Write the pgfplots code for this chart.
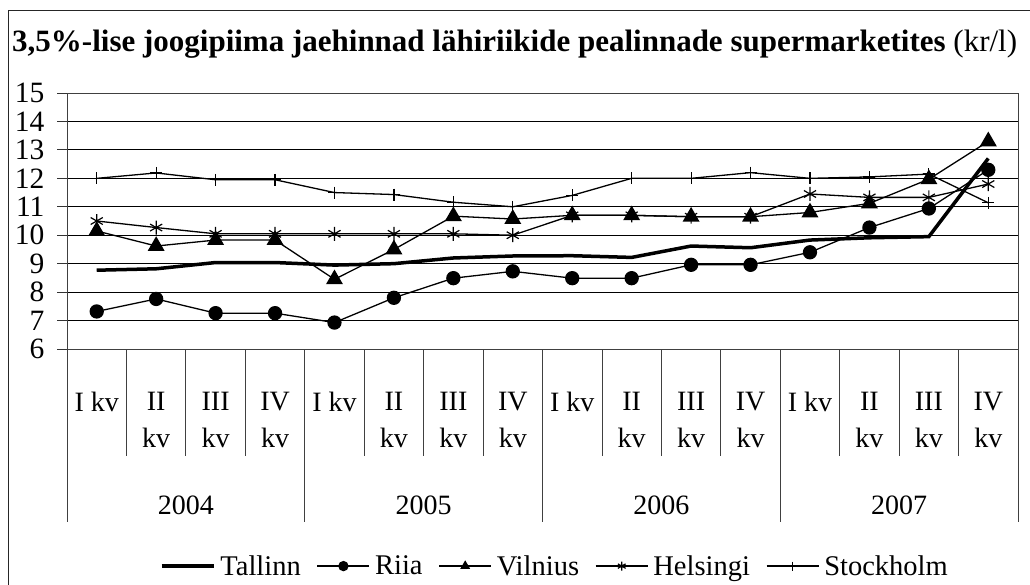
\documentclass[border=0pt]{standalone}
\usepackage{fontspec}
\setmainfont{Liberation Serif}
\usepackage{pgfplots}
\pgfplotsset{compat=1.18}
\begin{document}
\begin{tikzpicture}
\useasboundingbox (0,0) rectangle (1030pt,-585pt);
\draw[line width=1pt, black!85] (8pt,-600pt) -- (8pt,-11pt) -- (1040pt,-11pt);
\node[anchor=base west, inner sep=0pt, font=\fontsize{31}{34}\selectfont] at (12pt,-52pt) {\textbf{3,5\%-lise joogipiima jaehinnad lähiriikide pealinnade supermarketites} (kr/l)};
\begin{axis}[
 at={(67pt,-349pt)}, anchor=south west,
 scale only axis, width=951pt, height=256pt,
 xmin=-0.5, xmax=15.5, ymin=6, ymax=15,
 clip=false,
 ytick={6,...,15},
 xtick={0,...,15},
 xticklabels={I kv,II\\kv,III\\kv,IV\\kv,I kv,II\\kv,III\\kv,IV\\kv,I kv,II\\kv,III\\kv,IV\\kv,I kv,II\\kv,III\\kv,IV\\kv},
 xticklabel style={align=center, anchor=north, yshift=-30pt, font=\fontsize{28}{37}\selectfont},
 yticklabel={\fontsize{29.5}{30}\selectfont\pgfmathprintnumber{\tick}},
 yticklabel style={xshift=-9pt},
 /pgf/number format/assume math mode=true,
 x tick style={draw=none},
 y tick style={black!80, line width=0.8pt},
 tick align=outside, ytick pos=left, major tick length=10pt,
 ymajorgrids, major grid style={black, line width=0.8pt},
 axis line style={black!75, line width=1pt},
 legend columns=5,
 legend style={draw=none, fill=none, at={(0.513,-0.848)}, anchor=center, font=\fontsize{28.5}{30}\selectfont, /tikz/every even column/.append style={column sep=14pt}, /tikz/every odd column/.append style={column sep=3pt}},
 legend image code/.code={\draw[mark repeat=2,mark phase=2,#1,mark size=4.5pt] plot coordinates {(0pt,0pt) (26pt,0pt) (52pt,0pt)};},
]
\pgfplotsinvokeforeach{0.5,1.5,2.5,4.5,5.5,6.5,8.5,9.5,10.5,12.5,13.5,14.5}{\draw[black!75, line width=0.8pt] (axis cs:#1,6) -- ([yshift=-107pt]axis cs:#1,6);}
\pgfplotsinvokeforeach{-0.5,3.5,7.5,11.5,15.5}{\draw[black!75, line width=0.8pt] (axis cs:#1,6) -- ([yshift=-173pt]axis cs:#1,6);}
\node[anchor=base, font=\fontsize{28}{30}\selectfont] at ([yshift=-165pt]axis cs:1.5,6) {2004};
\node[anchor=base, font=\fontsize{28}{30}\selectfont] at ([yshift=-165pt]axis cs:5.5,6) {2005};
\node[anchor=base, font=\fontsize{28}{30}\selectfont] at ([yshift=-165pt]axis cs:9.5,6) {2006};
\node[anchor=base, font=\fontsize{28}{30}\selectfont] at ([yshift=-165pt]axis cs:13.5,6) {2007};

\addplot[black, line width=3.5pt, no markers] coordinates {
(0,8.77) (1,8.82) (2,9.04) (3,9.04) (4,8.95) (5,9.0) (6,9.2) (7,9.27) (8,9.28) (9,9.22) (10,9.62) (11,9.56) (12,9.83) (13,9.91) (14,9.95) (15,12.7)};
\addlegendentry{Tallinn}
\addplot[black, line width=1.3pt, mark=*, mark size=6.5pt] coordinates {
(0,7.32) (1,7.76) (2,7.26) (3,7.26) (4,6.93) (5,7.8) (6,8.49) (7,8.73) (8,8.49) (9,8.49) (10,8.96) (11,8.96) (12,9.4) (13,10.27) (14,10.94) (15,12.3)};
\addlegendentry{Riia}
\addplot[black, line width=1.3pt, mark=triangle*, mark size=8.5pt] coordinates {
(0,10.15) (1,9.62) (2,9.83) (3,9.83) (4,8.45) (5,9.5) (6,10.67) (7,10.57) (8,10.7) (9,10.7) (10,10.65) (11,10.65) (12,10.8) (13,11.12) (14,11.97) (15,13.3)};
\addlegendentry{Vilnius}
\addplot[black, line width=1.3pt, mark=asterisk, mark size=7pt, mark options={line width=1.2pt}] coordinates {
(0,10.5) (1,10.27) (2,10.05) (3,10.05) (4,10.05) (5,10.05) (6,10.05) (7,10.0) (8,10.7) (9,10.7) (10,10.65) (11,10.65) (12,11.45) (13,11.33) (14,11.33) (15,11.8)};
\addlegendentry{Helsingi}
\addplot[black, line width=1.3pt, mark=+, mark size=6pt, mark options={line width=1.2pt}] coordinates {
(0,12.0) (1,12.19) (2,11.95) (3,11.95) (4,11.5) (5,11.43) (6,11.16) (7,11.0) (8,11.4) (9,12.0) (10,12.0) (11,12.2) (12,12.0) (13,12.05) (14,12.15) (15,11.14)};
\addlegendentry{Stockholm}
\end{axis}
\end{tikzpicture}
\end{document}
